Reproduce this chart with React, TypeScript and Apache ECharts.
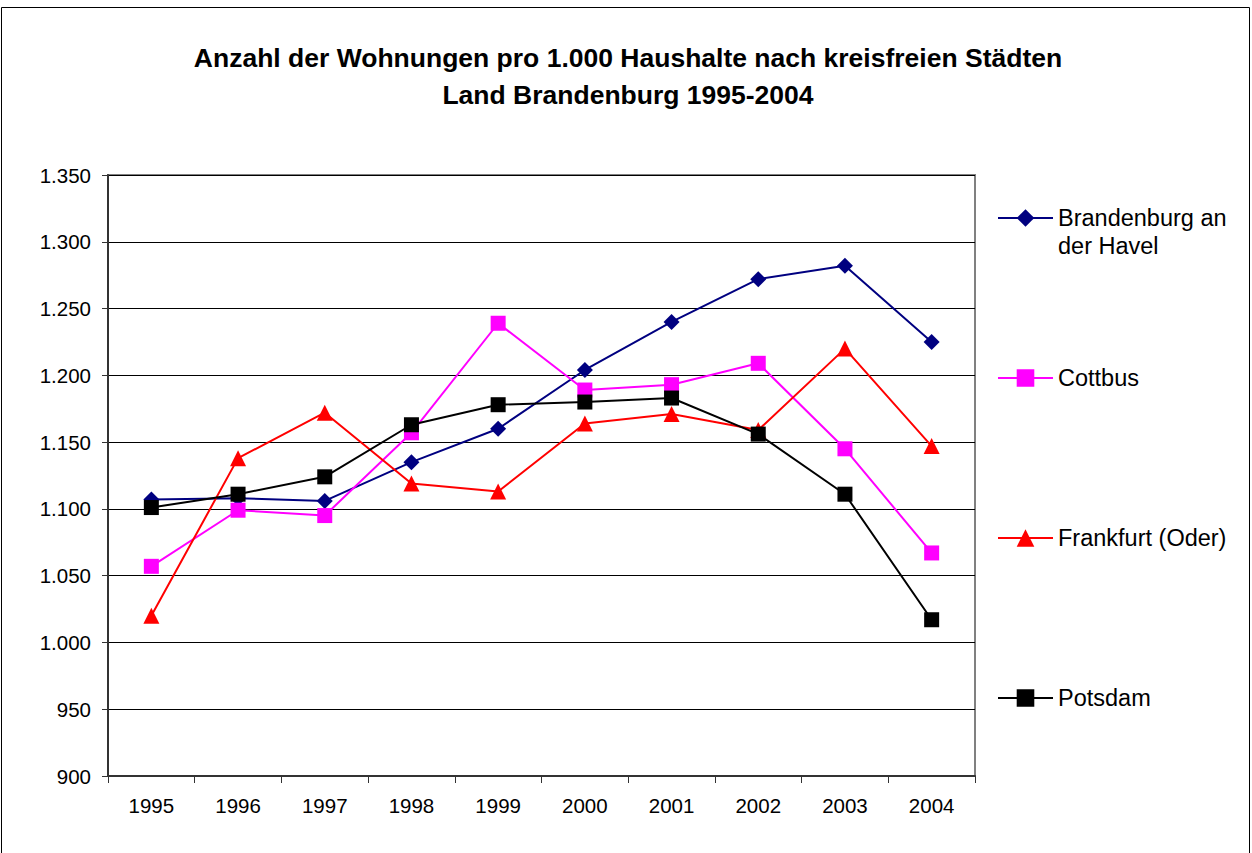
import React, { useEffect, useRef } from "react";
import * as echarts from "echarts";

const years = ["1995", "1996", "1997", "1998", "1999", "2000", "2001", "2002", "2003", "2004"];
const brandenburg = [1107, 1108, 1106, 1135, 1160, 1204, 1240, 1272, 1282, 1225];
const cottbus = [1057, 1099, 1095, 1157, 1239, 1189, 1193, 1209, 1145, 1067];
const frankfurt = [1020, 1138, 1172, 1119, 1113, 1164, 1171, 1159, 1220, 1147];
const potsdam = [1101, 1111, 1124, 1163, 1178, 1180, 1183, 1156, 1111, 1017];
const seriesNames = ["Brandenburg an der Havel", "Cottbus", "Frankfurt (Oder)", "Potsdam"];
const titleLines = ["Anzahl der Wohnungen pro 1.000 Haushalte nach kreisfreien Städten", "Land Brandenburg 1995-2004"];

const FONT = "'Liberation Sans', Arial, sans-serif";

export default function App() {
  const ref = useRef<HTMLDivElement>(null);
  useEffect(() => {
    if (!ref.current) return;
    const chart = echarts.init(ref.current, null, { renderer: "svg" });
    const mk = (name: string, data: number[], color: string, symbol: string, size: number) => ({
      name,
      type: "line",
      data,
      symbol,
      symbolSize: size,
      itemStyle: { color },
      lineStyle: { color, width: 2 },
    });
    const legendBase = {
      orient: "vertical",
      left: 992,
      itemWidth: 55,
      itemHeight: 22,
      itemGap: 10,
      textStyle: { fontFamily: FONT, fontSize: 23.5, color: "#000" },
      selectedMode: false,
    };
    chart.setOption({
      animation: false,
      backgroundColor: "#fff",
      title: {
        text: titleLines.join("\n"),
        left: 623,
        textAlign: "center",
        top: 34,
        textStyle: { fontFamily: FONT, fontSize: 26.5, fontWeight: "bold", color: "#000", lineHeight: 37 },
      },
      legend: [
        { ...legendBase, top: 201, data: [seriesNames[0]], formatter: () => "Brandenburg an" },
        { ...legendBase, top: 361, data: [seriesNames[1]] },
        { ...legendBase, top: 521, data: [seriesNames[2]] },
        { ...legendBase, top: 681, data: [seriesNames[3]] },
      ],
      graphic: [
        {
          type: "rect",
          shape: { x: 1.5, y: 7.5, width: 1248, height: 900 },
          style: { fill: "none", stroke: "#000", lineWidth: 1 },
          silent: true,
        },
        {
          type: "text",
          x: 1058,
          y: 246,
          style: { text: "der Havel", font: "23.5px " + FONT, fill: "#000", textVerticalAlign: "middle" },
        },
      ],
      grid: { left: 108, right: 277, top: 175, bottom: 77, show: true, borderColor: "#808080", borderWidth: 2 },
      xAxis: {
        type: "category",
        data: years,
        boundaryGap: true,
        axisLine: { lineStyle: { color: "#333", width: 2 } },
        axisTick: { show: true, length: 7, lineStyle: { color: "#333" } },
        axisLabel: { fontFamily: FONT, fontSize: 20.5, color: "#000", margin: 19 },
        splitLine: { show: false },
      },
      yAxis: {
        type: "value",
        min: 900,
        max: 1350,
        interval: 50,
        axisLine: { show: true, lineStyle: { color: "#333", width: 2 } },
        axisTick: { show: true, length: 6, lineStyle: { color: "#333" } },
        axisLabel: {
          fontFamily: FONT,
          fontSize: 20.5,
          color: "#000",
          margin: 17,
          formatter: (v: number) => (v >= 1000 ? Math.floor(v / 1000) + "." + String(v % 1000).padStart(3, "0") : String(v)),
        },
        splitLine: { show: true, lineStyle: { color: "#000", width: 1 } },
      },
      series: [
        mk(seriesNames[0], brandenburg, "#000080", "diamond", 16),
        mk(seriesNames[1], cottbus, "#FF00FF", "rect", 15),
        mk(seriesNames[2], frankfurt, "#FF0000", "triangle", 16),
        mk(seriesNames[3], potsdam, "#000000", "rect", 15),
      ],
    });
    return () => chart.dispose();
  }, []);
  return <div ref={ref} style={{ position: "fixed", left: 0, top: 0, width: 1252, height: 853 }} />;
}
